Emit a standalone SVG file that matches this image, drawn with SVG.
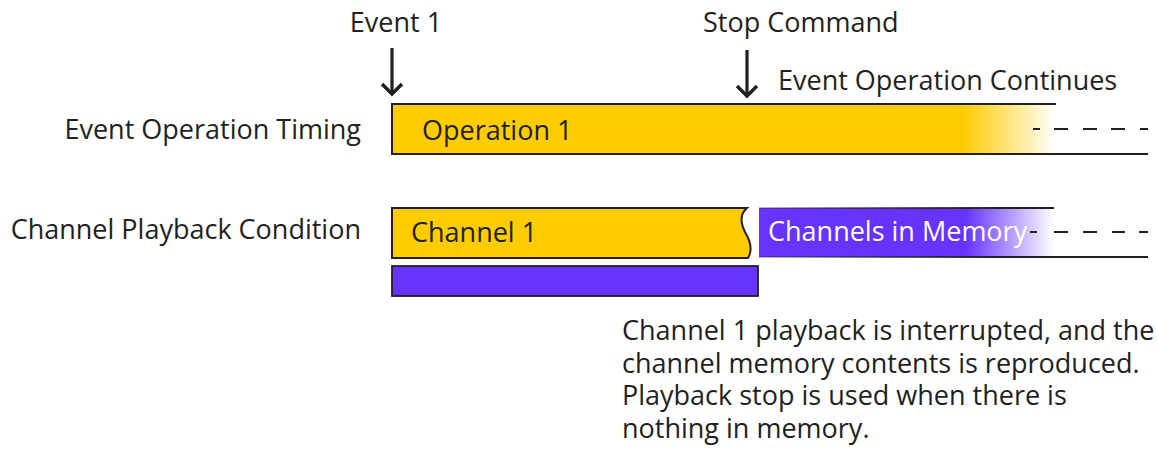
<svg xmlns="http://www.w3.org/2000/svg" width="1157" height="452" viewBox="0 0 1157 452">
<style>
text{font-family:"Open Sans","Noto Sans","Liberation Sans",sans-serif;font-size:27px;fill:#231f20}
.w{fill:#ffffff}
.ln{stroke:#231f20;stroke-width:2;fill:none}
.dash{stroke:#231f20;stroke-width:2;fill:none}
.arr{stroke:#231f20;stroke-width:3.2;fill:none}
</style>
<defs>
<linearGradient id="gy" x1="392" y1="0" x2="1056" y2="0" gradientUnits="userSpaceOnUse">
<stop offset="0" stop-color="#ffcc00"/>
<stop offset="0.86" stop-color="#ffcc00"/>
<stop offset="1" stop-color="#ffcc00" stop-opacity="0"/>
</linearGradient>
<linearGradient id="gp" x1="759" y1="0" x2="1054" y2="0" gradientUnits="userSpaceOnUse">
<stop offset="0" stop-color="#6633ff"/>
<stop offset="0.7" stop-color="#6633ff"/>
<stop offset="1" stop-color="#6633ff" stop-opacity="0"/>
</linearGradient>
<linearGradient id="gl" x1="759" y1="0" x2="1000" y2="0" gradientUnits="userSpaceOnUse">
<stop offset="0" stop-color="#231f20" stop-opacity="0.3"/>
<stop offset="1" stop-color="#231f20"/>
</linearGradient>
<marker id="ah" markerUnits="userSpaceOnUse" markerWidth="26" markerHeight="16" refX="13" refY="13" orient="0" viewBox="0 0 26 16">
<path d="M3,3 L13,13 L23,3" stroke="#231f20" stroke-width="3.4" fill="none"/>
</marker>
</defs>

<g id="label-event-operation-timing"><text x="361" y="139" text-anchor="end">Event Operation Timing</text></g>
<g id="label-channel-playback-condition"><text x="361" y="239" text-anchor="end">Channel Playback Condition</text></g>
<g id="label-event1"><text x="396" y="32" text-anchor="middle">Event 1</text></g>
<g id="label-stop-command"><text x="703" y="32">Stop Command</text></g>
<g id="label-continues"><text x="778" y="90">Event Operation Continues</text></g>

<g id="operation1">
<rect x="392" y="104" width="664" height="50" fill="url(#gy)"/>
<path class="ln" d="M1056,104 H392 V154 H1148"/>
<path class="dash" d="M1033,129 H1040 M1054,129 H1068 M1083,129 H1097 M1111,129 H1125 M1140,129 H1148"/>
<text x="422" y="140">Operation 1</text>
</g>

<g id="channel1">
<path d="M392,208 L747,208 C740,214 740,222 745,232 C751,242 753,250 748,258 L392,258 Z" fill="#ffcc00" stroke="#231f20" stroke-width="2"/>
<text x="411" y="242">Channel 1</text>
</g>

<g id="memory-bar">
<rect x="392" y="266" width="366" height="30" fill="#6633ff" stroke="#231f20" stroke-width="1.8"/>
</g>

<g id="channels-in-memory">
<rect x="759" y="208" width="295" height="49" fill="url(#gp)"/>
<path d="M759,208 H1054" stroke="url(#gl)" stroke-width="2" fill="none"/>
<path d="M759,257 H1000" stroke="url(#gl)" stroke-width="2" fill="none"/>
<path class="ln" d="M999,257 H1148"/>
<path class="dash" d="M1030,232 H1037 M1054,232 H1068 M1083,232 H1097 M1112,232 H1125 M1139,232 H1148"/>
<text class="w" x="768" y="241">Channels in Memory</text>
</g>

<g id="note">
<text x="622" y="340">Channel 1 playback is interrupted, and the</text>
<text x="622" y="373">channel memory contents is reproduced.</text>
<text x="622" y="405">Playback stop is used when there is</text>
<text x="622" y="438">nothing in memory.</text>
</g>

<g id="connectors">
<path class="arr" d="M392,48 V94" marker-end="url(#ah)"/>
<path class="arr" d="M747,50 V96" marker-end="url(#ah)"/>
</g>
</svg>
